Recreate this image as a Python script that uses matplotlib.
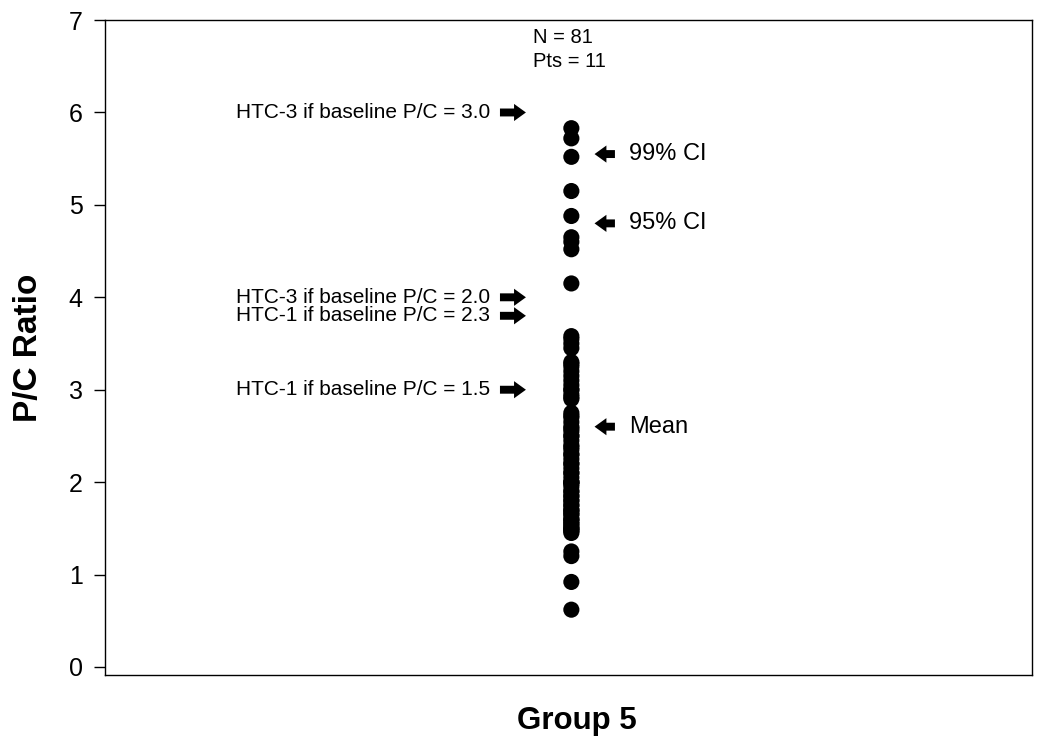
import matplotlib
matplotlib.use("Agg")
import matplotlib.pyplot as plt

plt.rcParams['font.family'] = ['Liberation Sans', 'DejaVu Sans']

# P/C ratio values for Group 5
pc_values = [
    5.83, 5.72, 5.52, 5.15, 4.88, 4.65, 4.60, 4.52, 4.15,
    3.58, 3.55, 3.50, 3.45, 3.30, 3.28, 3.25, 3.20, 3.15, 3.10,
    3.05, 3.00, 3.00, 2.95, 2.92, 2.90, 2.75, 2.72, 2.70, 2.65,
    2.60, 2.58, 2.55, 2.50, 2.50, 2.45, 2.40, 2.38, 2.35, 2.30,
    2.30, 2.25, 2.20, 2.20, 2.15, 2.10, 2.10, 2.05, 2.00, 2.00,
    2.00, 1.98, 1.95, 1.90, 1.90, 1.85, 1.85, 1.80, 1.80, 1.75,
    1.75, 1.70, 1.70, 1.68, 1.65, 1.65, 1.60, 1.60, 1.58, 1.55,
    1.55, 1.52, 1.50, 1.50, 1.48, 1.47, 1.45,
    1.25, 1.20, 0.92, 0.62,
]
group_x = 0.503

# left-side thresholds (arrows point right)
left_labels = ["HTC-3 if baseline P/C = 3.0", "HTC-3 if baseline P/C = 2.0",
               "HTC-1 if baseline P/C = 2.3", "HTC-1 if baseline P/C = 1.5"]
left_y = [6.0, 4.0, 3.8, 3.0]

# right-side markers (arrows point left)
right_labels = ["99% CI", "95% CI", "Mean"]
right_y = [5.55, 4.8, 2.6]

fig = plt.figure(figsize=(10.5, 7.43), dpi=100)
ax = fig.add_axes([0.1, 0.0915, 0.883, 0.8815])

ax.scatter([group_x] * len(pc_values), pc_values, s=135, color="black",
           edgecolors="none", zorder=3)

arrow_kw = dict(arrowstyle="simple,head_length=0.45,head_width=0.65,tail_width=0.3",
                color="black", mutation_scale=19, shrinkA=0, shrinkB=0, lw=0)
for lab, y in zip(left_labels, left_y):
    ax.annotate("", xy=(0.454, y), xytext=(0.426, y), arrowprops=arrow_kw)
    ax.text(0.415, y, lab, ha="right", va="center", fontsize=15)

for lab, y in zip(right_labels, right_y):
    ax.annotate("", xy=(0.528, y), xytext=(0.550, y), arrowprops=arrow_kw)
    ax.text(0.565, y, lab, ha="left", va="center", fontsize=17)

ax.text(0.462, 6.81, "N = 81", ha="left", va="center", fontsize=14.5)
ax.text(0.462, 6.55, "Pts = 11", ha="left", va="center", fontsize=14.5)

ax.set_xlim(0, 1)
ax.set_ylim(-0.087, 7)
ax.set_yticks(range(0, 8))
ax.set_xticks([])
ax.tick_params(axis="y", labelsize=18, length=8, width=1, pad=8)
for sp in ax.spines.values():
    sp.set_linewidth(1)

ax.set_ylabel("P/C Ratio", fontsize=24, fontweight="bold", labelpad=18)
ax.set_xlabel("Group 5", fontsize=22.5, fontweight="bold")
ax.xaxis.set_label_coords(0.509, -0.047)

plt.savefig("out.png", dpi=100)
